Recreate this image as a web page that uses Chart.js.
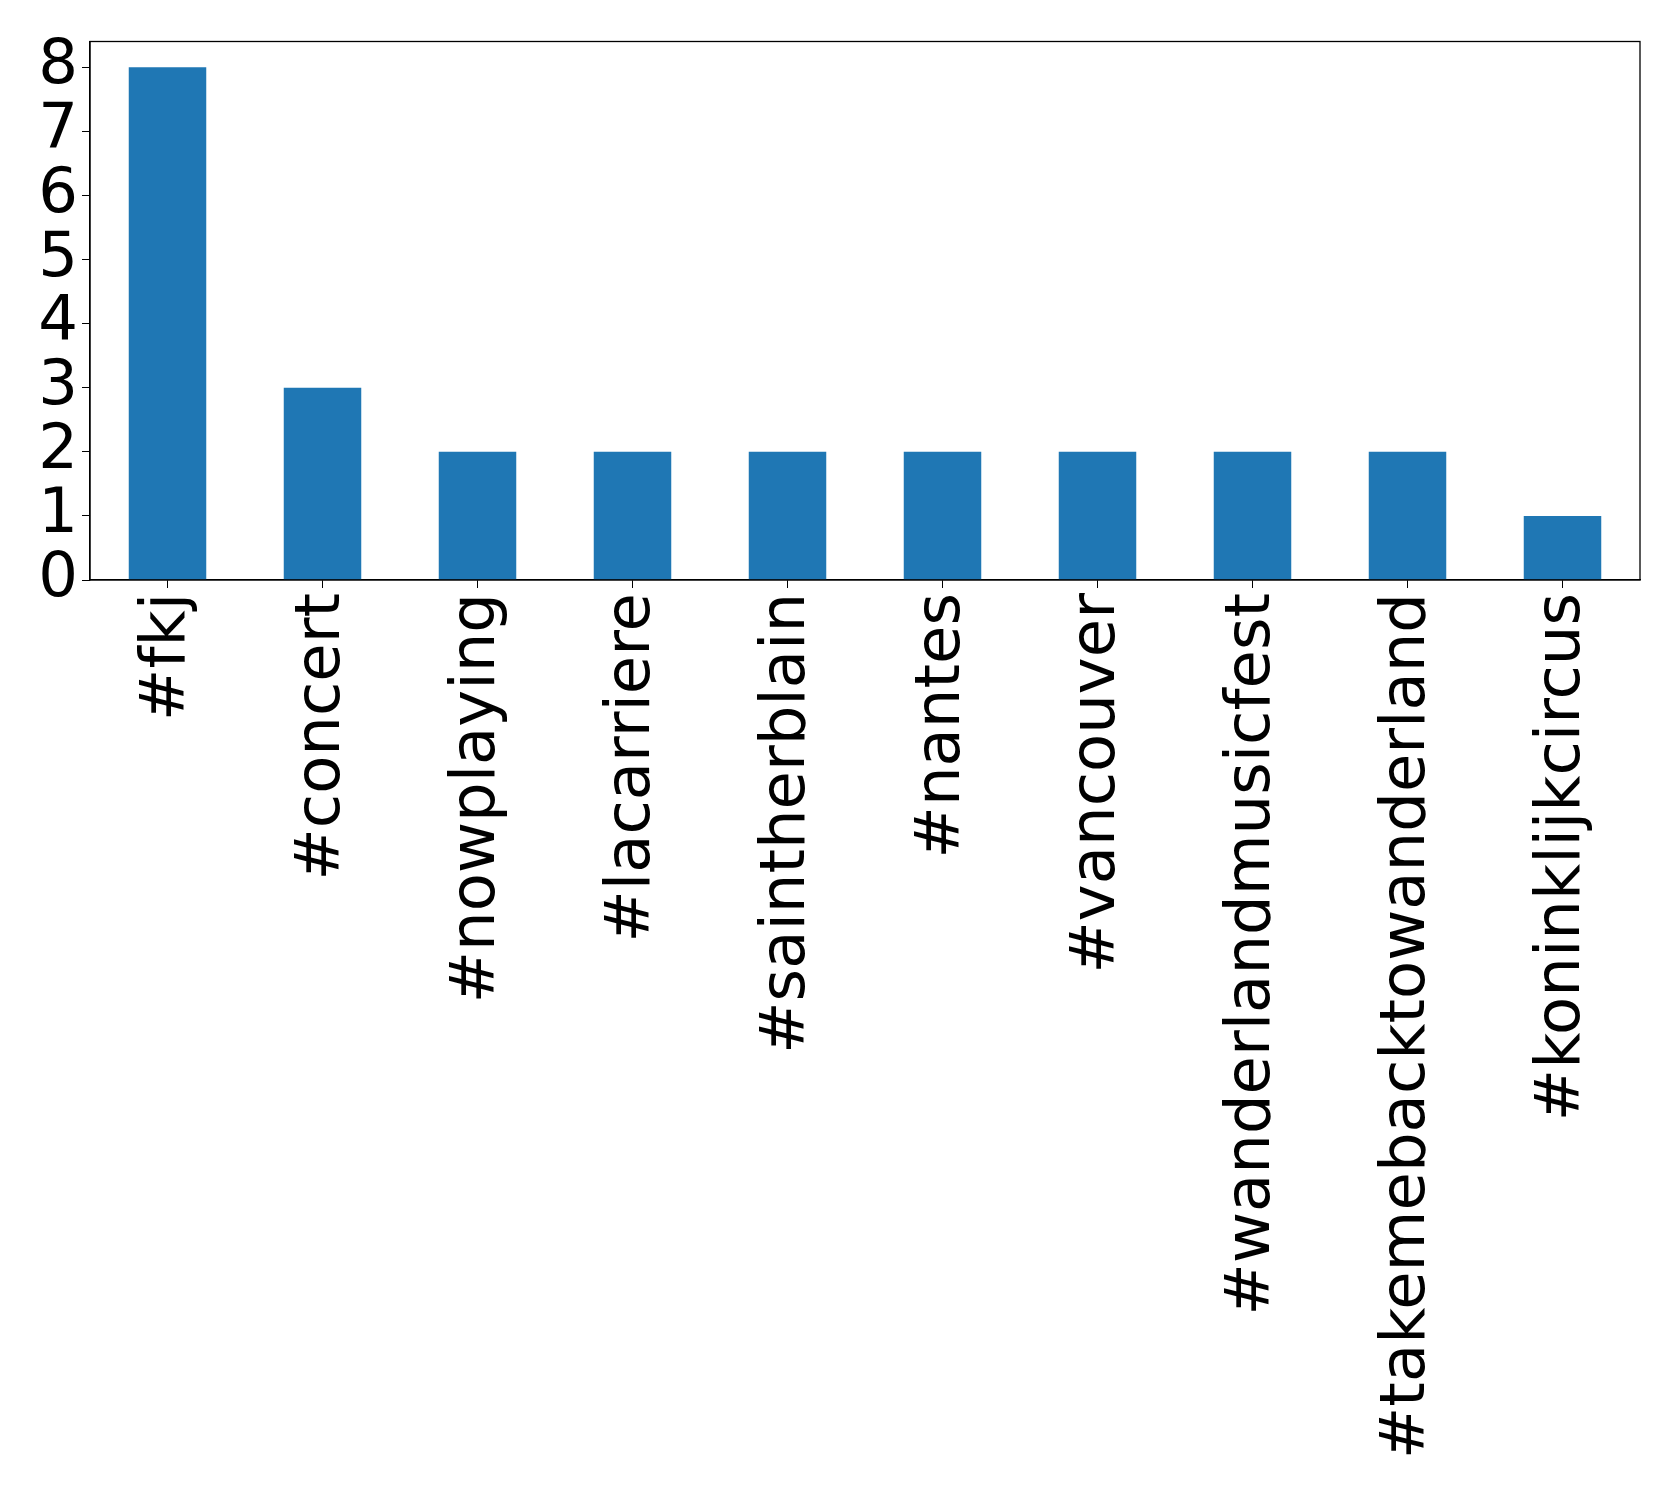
<!DOCTYPE html>
<html>
<head>
<meta charset="utf-8">
<script src="https://cdn.jsdelivr.net/npm/chart.js@4"></script>
<style>
  html, body { margin: 0; padding: 0; background: #fff; }
  #wrap { width: 1679px; height: 1494px; }
</style>
</head>
<body>
<div id="wrap"><canvas id="myChart" width="1679" height="1494"></canvas></div>
<script>
const hashtags = ['#fkj', '#concert', '#nowplaying', '#lacarriere', '#saintherblain',
    '#nantes', '#vancouver', '#wanderlandmusicfest', '#takemebacktowanderland', '#koninklijkcircus'];
const counts = [8, 3, 2, 2, 2, 2, 2, 2, 2, 1];
const yTicks = [0, 1, 2, 3, 4, 5, 6, 7, 8];
const yMax = 8.4;

// draw the full box round the plot area, like matplotlib spines
const frameBox = {
    id: 'frameBox',
    afterDraw(chart) {
        const { ctx, chartArea } = chart;
        ctx.save();
        ctx.strokeStyle = '#000';
        ctx.lineWidth = 1.3;
        ctx.strokeRect(chartArea.left, chartArea.top, chartArea.right - chartArea.left, chartArea.bottom - chartArea.top);
        ctx.restore();
    }
};

const font = { family: 'DejaVu Sans', size: 62.5 };

new Chart(document.getElementById('myChart'), {
    type: 'bar',
    data: {
        labels: hashtags,
        datasets: [{
            data: counts,
            backgroundColor: '#1f77b4',
            barPercentage: 0.5,
            categoryPercentage: 1.0,
        }]
    },
    options: {
        responsive: false,
        animation: false,
        devicePixelRatio: 1,
        layout: { padding: { top: 40, right: 39, left: 0, bottom: 0 } },
        plugins: {
            legend: { display: false },
            tooltip: { enabled: false },
        },
        scales: {
            x: {
                offset: true,
                grid: { display: true, offset: false, drawOnChartArea: false, drawTicks: true, tickLength: 8, color: '#000' },
                border: { display: true, color: '#000', width: 1.3 },
                ticks: { color: '#000', font: font, minRotation: 90, maxRotation: 90, padding: 5, autoSkip: false },
                afterFit: (scale) => { scale.height = 914; },
            },
            y: {
                min: 0,
                max: yMax,
                grid: { display: true, drawOnChartArea: false, drawTicks: true, tickLength: 8, color: '#000' },
                border: { display: true, color: '#000', width: 1.3 },
                ticks: { color: '#000', font: font, padding: 4, autoSkip: false },
                afterBuildTicks: (scale) => { scale.ticks = yTicks.map(v => ({ value: v })); },
                afterFit: (scale) => { scale.width = 90; },
            }
        }
    },
    plugins: [frameBox]
});
</script>
</body>
</html>
